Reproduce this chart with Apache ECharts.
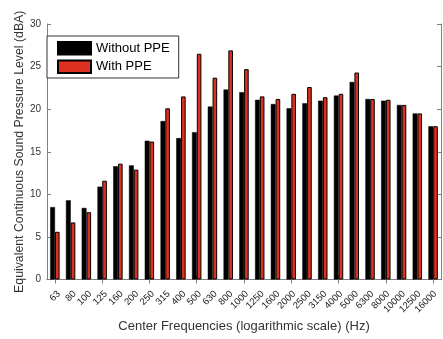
<!DOCTYPE html>
<html>
<head>
<meta charset="utf-8">
<script src="https://cdn.jsdelivr.net/npm/echarts@6/dist/echarts.min.js"></script>
<style>
  html, body { margin: 0; padding: 0; background: #fff; }
  #chart { width: 443px; height: 339px; }
</style>
</head>
<body>
<div id="chart"></div>
<script>
// One-third-octave band centre frequencies (Hz)
const bands = ['63', '80', '100', '125', '160', '200', '250', '315', '400', '500',
  '630', '800', '1000', '1250', '1600', '2000', '2500', '3150', '4000', '5000',
  '6300', '8000', '10000', '12500', '16000'];

// Leq per band, dBA
const withoutPPE = [8.5, 9.3, 8.4, 10.9, 13.3, 13.4, 16.3, 18.6, 16.6, 17.3,
  20.3, 22.3, 22.0, 21.1, 20.6, 20.1, 20.7, 21.0, 21.6, 23.2,
  21.2, 21.0, 20.5, 19.5, 18.0];
const withPPE = [5.6, 6.7, 7.9, 11.6, 13.6, 12.9, 16.2, 20.1, 21.5, 26.5,
  23.7, 26.9, 24.7, 21.5, 21.2, 21.8, 22.6, 21.4, 21.8, 24.3,
  21.2, 21.1, 20.5, 19.5, 18.0];

// y-axis ticks
const yMin = 0, yMax = 30, yStep = 5;

const FONT = '"Liberation Sans", Arial, sans-serif';
const AXIS = '#808080';
const TEXT = '#333333';

const chart = echarts.init(document.getElementById('chart'), null, { renderer: 'canvas' });

const tickStyle = { show: true, inside: true, length: 4, lineStyle: { color: AXIS, width: 1 } };

chart.setOption({
  animation: false,
  backgroundColor: '#ffffff',
  textStyle: { fontFamily: FONT },
  grid: [
    // plotting area
    { left: 47, right: 2, top: 24, bottom: 59.5, containLabel: false },
    // same box nudged right: carries the slanted band labels
    { left: 51, right: -2, top: 24, bottom: 59.5, containLabel: false }
  ],
  legend: {
    orient: 'vertical',
    left: 47,
    top: 36,
    padding: [5, 9, 4, 10],
    itemGap: 4,
    itemWidth: 33,
    itemHeight: 12.5,
    borderColor: '#333333',
    borderWidth: 1,
    backgroundColor: '#ffffff',
    icon: 'rect',
    textStyle: { fontFamily: FONT, fontSize: 13, color: '#000' },
    data: ['Without PPE', 'With PPE']
  },
  xAxis: [
    {
      type: 'category',
      gridIndex: 0,
      data: bands,
      position: 'bottom',
      axisLine: { show: true, lineStyle: { color: AXIS, width: 1 } },
      axisTick: Object.assign({ alignWithLabel: true }, tickStyle),
      axisLabel: { show: false },
      name: 'Center Frequencies (logarithmic scale) (Hz)',
      nameLocation: 'middle',
      nameGap: 40,
      nameMoveOverlap: false,
      nameTextStyle: { fontFamily: FONT, fontSize: 13, color: TEXT }
    },
    {
      type: 'category',
      gridIndex: 0,
      data: bands,
      position: 'top',
      axisLine: { show: true, lineStyle: { color: AXIS, width: 1 } },
      axisTick: Object.assign({ alignWithLabel: true }, tickStyle),
      axisLabel: { show: false }
    },
    {
      type: 'category',
      gridIndex: 1,
      data: bands,
      position: 'bottom',
      axisLine: { show: false },
      axisTick: { show: false },
      axisLabel: {
        interval: 0, rotate: 45, margin: 13,
        fontFamily: FONT, fontSize: 9.5, color: '#1a1a1a'
      }
    }
  ],
  yAxis: [
    {
      type: 'value',
      gridIndex: 0,
      min: yMin, max: yMax, interval: yStep,
      position: 'left',
      splitLine: { show: false },
      axisLine: { show: true, lineStyle: { color: AXIS, width: 1 } },
      axisTick: tickStyle,
      axisLabel: { margin: 6, fontFamily: FONT, fontSize: 10, color: TEXT },
      name: 'Equivalent Continuous Sound Pressure Level (dBA)',
      nameLocation: 'middle',
      nameGap: 21,
      nameMoveOverlap: false,
      nameTextStyle: { fontFamily: FONT, fontSize: 12.3, color: TEXT }
    },
    {
      type: 'value',
      gridIndex: 0,
      min: yMin, max: yMax, interval: yStep,
      position: 'right',
      splitLine: { show: false },
      axisLine: { show: true, lineStyle: { color: AXIS, width: 1 } },
      axisTick: tickStyle,
      axisLabel: { show: false }
    },
    {
      type: 'value',
      gridIndex: 1,
      min: yMin, max: yMax, interval: yStep,
      show: false
    }
  ],
  series: [
    {
      name: 'Without PPE',
      type: 'bar',
      xAxisIndex: 0,
      yAxisIndex: 0,
      data: withoutPPE,
      barWidth: 4.8,
      barGap: '0%',
      itemStyle: { color: '#000000', borderColor: '#000000', borderWidth: 0.5 }
    },
    {
      name: 'With PPE',
      type: 'bar',
      xAxisIndex: 0,
      yAxisIndex: 0,
      data: withPPE,
      barWidth: 4.6,
      barGap: '0%',
      itemStyle: { color: '#de3020', borderColor: '#000000', borderWidth: 1 }
    }
  ]
});
</script>
</body>
</html>
